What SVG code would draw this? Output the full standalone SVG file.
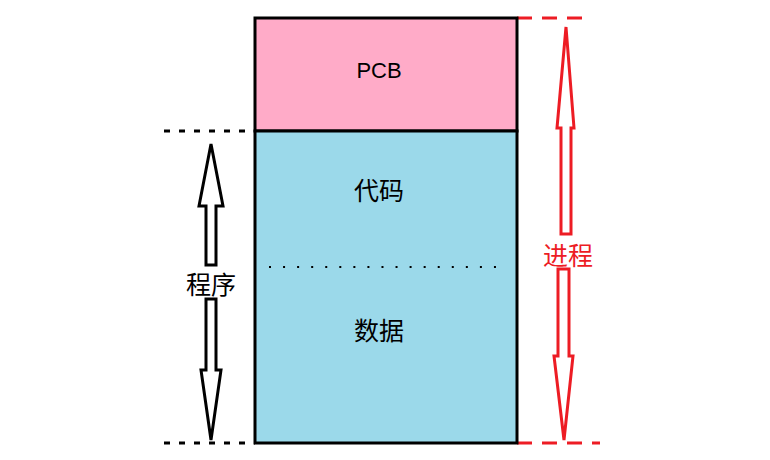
<svg xmlns="http://www.w3.org/2000/svg" width="770" height="460" viewBox="0 0 770 460">
<style>
.t{font-family:"Noto Sans CJK SC","Liberation Sans",sans-serif;text-anchor:middle;dominant-baseline:central}
.lat{font-family:"Liberation Sans",sans-serif;font-size:22px}
.blk{fill:#fff;stroke:#000;stroke-width:3;stroke-linejoin:miter}
.red{fill:#fff;stroke:#ED1C24;stroke-width:3;stroke-linejoin:miter}
.dk{stroke:#000;stroke-width:3;stroke-dasharray:6 9}
.dr{stroke:#ED1C24;stroke-width:3;stroke-dasharray:15 10}
</style>
<rect width="770" height="460" fill="#fff"/>
<g id="connectors">
<line class="dk" x1="164" y1="131" x2="255" y2="131"/>
<line class="dk" x1="164" y1="443" x2="255" y2="443"/>
<line class="dr" x1="517" y1="18" x2="592" y2="18"/>
<line class="dr" x1="517" y1="443" x2="600" y2="443"/>
<polygon class="blk" points="211,144 223,206 216,206 216,265 206,265 206,206 199,206"/>
<polygon class="blk" points="206,299 216,299 216,370 221,370 211,440 201,370 206,370"/>
<polygon class="red" points="566,27 574,128 571,128 571,234 561,234 561,128 557,128"/>
<polygon class="red" points="558,269 569,269 569,356 573,356 564,440 554,356 558,356"/>
</g>
<g id="pcb">
<rect x="255" y="18" width="262" height="113" fill="#FFABC8" stroke="#000" stroke-width="3"/>
<text class="t lat" x="379" y="70">PCB</text>
</g>
<g id="program">
<rect x="255" y="131" width="262" height="312" fill="#9BD9EA" stroke="#000" stroke-width="3"/>
<text class="t" x="379" y="189" font-size="25">代码</text>
<line x1="269" y1="267" x2="497" y2="267" stroke="#000" stroke-width="2" stroke-dasharray="2 12.06"/>
<text class="t" x="379" y="329" font-size="25">数据</text>
</g>
<g id="label-program">
<text class="t" x="211" y="283" font-size="25">程序</text>
</g>
<g id="label-process">
<text class="t" x="568" y="254" font-size="25" fill="#ED1C24">进程</text>
</g>
</svg>
